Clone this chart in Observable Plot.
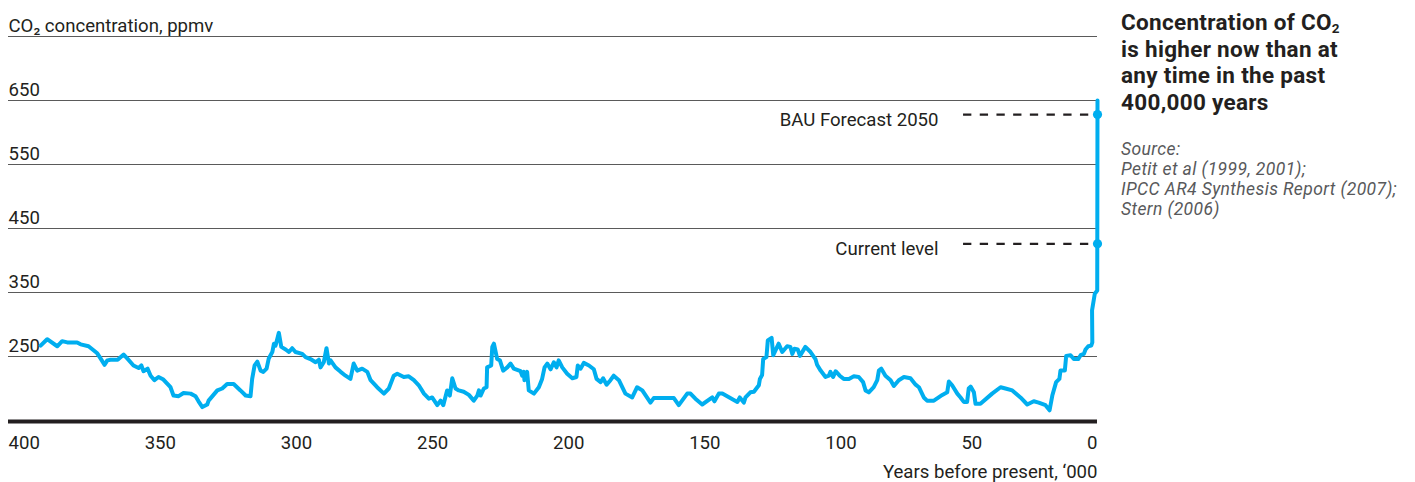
<!DOCTYPE html>
<html>
<head>
<meta charset="utf-8">
<script src="https://cdn.jsdelivr.net/npm/d3@7"></script>
<script src="https://cdn.jsdelivr.net/npm/@observablehq/plot@0.6"></script>
<style>
  html, body { margin: 0; padding: 0; background: #fff; }
  #wrap { position: relative; width: 1415px; height: 482px; }
  #chart { position: absolute; left: 0; top: 0; }
  #side { position: absolute; left: 1121px; top: 0; width: 294px; color: #231f20; }
  #title { position: absolute; top: 9px; left: 0; font-family: Roboto, sans-serif; font-weight: 700; font-size: 22.5px; line-height: 26.7px; letter-spacing: 0.3px; white-space: nowrap; }
  #title sub { font-size: 0.6em; line-height: 0; vertical-align: baseline; position: relative; top: 0.25em; }
  #source { position: absolute; top: 139px; left: 0; font-family: Roboto, sans-serif; font-style: italic; font-size: 17.5px; line-height: 20px; color: #58595b; white-space: nowrap; letter-spacing: 0.4px; }
</style>
</head>
<body>
<div id="wrap">
  <div id="chart"></div>
  <div id="side">
    <div id="title">Concentration of CO<sub>2</sub><br>is higher now than at<br>any time in the past<br>400,000 years</div>
    <div id="source">Source:<br>Petit et al (1999, 2001);<br>IPCC AR4 Synthesis Report (2007);<br>Stern (2006)</div>
  </div>
</div>
<script>
// Years before present ('000) and CO2 concentration (ppmv)
const yearsBP = [388.2,385.8,382.1,380.3,378.4,374.8,373.5,370.6,367.4,366.2,364.7,363.7,362.5,359.9,357.7,356.4,354.1,352.2,351.2,350.4,348.9,347.8,346.4,344.9,343.1,340.5,339.4,337.5,335.7,333.1,331.3,330.2,328.8,327.0,326.5,323.3,321.5,319.7,317.3,314.8,312.9,311.1,310.5,309.6,308.6,307.4,306.4,305.2,304.4,303.1,302.5,301.9,300.7,299.8,298.2,297.0,295.8,294.6,292.1,290.9,289.1,287.2,286.0,285.4,284.2,283.2,282.3,281.7,279.9,278.0,276.2,274.4,273.2,271.9,270.1,268.2,267.0,264.6,262.1,260.3,258.5,257.2,254.8,253.0,251.1,249.3,247.4,245.6,244.4,242.5,241.3,240.3,238.9,237.9,237.0,235.8,234.6,232.8,230.9,229.1,227.8,227.2,226.6,225.4,224.4,224.2,222.7,222.3,221.7,220.5,219.5,218.3,216.8,215.6,214.4,211.9,211.3,210.7,210.5,209.5,208.9,207.0,205.2,204.0,203.1,202.1,200.9,199.7,198.7,197.9,196.6,194.8,192.9,191.4,190.9,189.9,188.7,186.8,185.0,184.0,182.5,181.6,180.3,178.9,177.7,175.8,173.4,170.9,169.1,167.2,164.2,163.0,155.6,153.8,150.7,149.5,147.7,145.2,141.5,140.7,139.1,137.8,132.3,131.4,129.9,129.3,127.5,126.2,124.4,124.0,123.2,122.8,121.6,121.1,119.7,119.1,117.1,115.8,114.0,112.8,112.1,111.3,110.1,109.3,107.3,105.4,103.6,103.0,101.7,99.9,98.7,98.1,97.1,96.2,94.7,93.2,91.3,89.5,87.7,86.1,85.2,84.0,82.2,80.9,80.3,79.4,77.9,76.0,74.8,73.0,71.1,68.7,66.8,65.6,63.8,62.6,60.1,57.0,55.2,54.6,53.4,51.5,50.3,49.1,47.9,47.3,46.6,45.4,44.8,43.0,38.7,35.6,33.8,31.3,28.3,25.8,23.4,21.6,19.1,17.6,16.6,15.2,14.0,13.6,12.0,11.5,9.9,8.7,7.1,6.2,5.0,4.4,3.4,2.3,1.9,2.0,1.0,0.1,0.0];
const co2 = [267,277,266,274,272,272,269,266,255,247,237,244,245,245,253,247,236,232,236,227,231,220,213,218,214,202,189,188,193,192,188,180,171,175,181,197,200,207,207,197,189,188,215,236,242,228,226,231,247,257,270,267,287,265,261,257,263,257,254,249,246,241,245,233,241,263,239,244,233,226,220,215,239,228,231,226,213,202,192,200,220,223,218,219,213,205,192,184,186,174,181,174,197,189,216,200,197,195,190,181,189,197,189,200,202,233,236,265,270,246,244,228,233,239,231,227,220,226,213,226,197,192,202,215,233,239,230,241,233,244,233,223,216,218,236,231,240,236,230,215,210,216,206,213,220,213,192,186,202,197,178,185,185,174,192,192,184,175,186,180,192,192,179,186,178,186,194,195,205,215,221,246,249,275,279,252,270,257,266,265,254,262,261,251,265,257,246,237,228,218,220,226,218,227,220,215,215,219,218,210,197,194,202,213,228,231,220,213,204,213,218,216,206,202,186,181,181,190,194,211,205,192,186,179,179,200,203,194,176,176,192,202,200,197,186,175,180,178,174,166,189,210,215,228,228,251,252,246,246,252,254,261,266,267,272,322,348,353,650];

const xTicks = [400, 350, 300, 250, 200, 150, 100, 50, 0];
const yTicks = [650, 550, 450, 350, 250];
const gridValues = [750, 650, 550, 450, 350, 250];
const annotationLabels = ["BAU Forecast 2050", "Current level"];
const annotationValues = [628, 426];

const series = yearsBP.map((x, i) => ({x, y: co2[i]}));
const notes = annotationLabels.map((label, i) => ({label, y: annotationValues[i]}));
const ink = "#231f20";
const blue = "#00aeef";
const fs = 18.6;

const chart = Plot.plot({
  width: 1110,
  height: 482,
  marginLeft: 8,
  marginRight: 13,
  marginTop: 36,
  marginBottom: 62,
  x: {domain: [400, 0], axis: null},
  y: {domain: [150, 750], axis: null},
  style: {fontFamily: "Roboto, sans-serif", fontSize: fs + "px", color: ink, background: "#fff", overflow: "visible"},
  marks: [
    Plot.ruleY(gridValues, {stroke: "#5a5a5a", strokeWidth: 1}),
    Plot.text(yTicks, {x: 400, y: d => d, text: d => String(d), textAnchor: "start", lineAnchor: "bottom", dy: -5, fill: ink, fontSize: fs}),
    Plot.text(["CO₂ concentration, ppmv"], {x: 400, y: 750, text: d => d, textAnchor: "start", lineAnchor: "bottom", dy: -5, fill: ink, fontSize: fs}),
    Plot.ruleY([150], {stroke: ink, strokeWidth: 4, dy: 1}),
    Plot.text(xTicks.filter(d => d !== 0), {x: d => d, y: 150, text: d => String(d), textAnchor: "start", lineAnchor: "bottom", dy: 28, fill: ink, fontSize: fs}),
    Plot.text(xTicks.filter(d => d === 0), {x: d => d, y: 150, text: d => String(d), textAnchor: "end", lineAnchor: "bottom", dy: 28, fill: ink, fontSize: fs}),
    Plot.text(["Years before present, ‘000"], {x: 0, y: 150, text: d => d, textAnchor: "end", lineAnchor: "bottom", dy: 57, fill: ink, fontSize: fs}),
    Plot.ruleY(notes, {y: "y", x1: 49.2, x2: 3.0, stroke: ink, strokeWidth: 2.4, strokeDasharray: "8.3,8.4"}),
    Plot.text(notes, {x: 58.4, y: "y", text: "label", textAnchor: "end", lineAnchor: "bottom", dy: 11.5, fill: ink, fontSize: fs}),
    Plot.line(series, {x: "x", y: "y", stroke: blue, strokeWidth: 4, strokeLinejoin: "round", strokeLinecap: "round"}),
    Plot.dot(notes, {x: 0, y: "y", r: 4.6, fill: blue, stroke: "none"})
  ]
});
document.getElementById("chart").appendChild(chart);
</script>
</body>
</html>
